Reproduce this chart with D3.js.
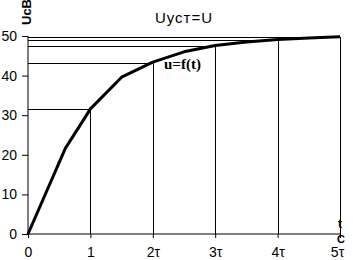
<!DOCTYPE html>
<html lang="ru">
<head>
  <meta charset="UTF-8">
  <title>Uуст=U</title>
  <script src="https://d3js.org/d3.v7.min.js"></script>
  <style>
    body { margin: 0; padding: 0; background: #fff; }
    svg { display: block; font-family: Arial, "Liberation Sans", sans-serif; }
    .tick text { font-size: 14px; fill: #000; }
  </style>
</head>
<body>
<div id="chart"></div>
<script>
  // curve u = f(t)
  const tVals = [0, 0.6, 0.87, 1, 1.5, 2, 2.5, 3, 3.5, 4, 4.5, 5];
  const uVals = [0, 21.7, 28.3, 31.6, 39.6, 43.4, 46.0, 47.6, 48.5, 49.1, 49.5, 49.8];
  // drop lines at each tau
  const markT = [1, 2, 3, 4, 5];
  const markU = [31.6, 43.2, 47.5, 49.1, 49.7];
  const xTickLabels = ["0", "1", "2\u03c4", "3\u03c4", "4\u03c4", "5\u03c4"];
  const yTicks = [0, 10, 20, 30, 40, 50];

  const W = 353, H = 260;
  const margin = { top: 36, right: 13, bottom: 26, left: 28 };

  const svg = d3.select("#chart").append("svg")
    .attr("width", W).attr("height", H);

  const x = d3.scaleLinear().domain([0, 5]).range([margin.left, W - margin.right]);
  const y = d3.scaleLinear().domain([0, 50]).range([H - margin.bottom, margin.top]);

  // guide lines
  const g = svg.append("g").attr("stroke", "#000").attr("stroke-width", 1)
    .attr("shape-rendering", "crispEdges");
  markT.forEach((t, i) => {
    g.append("line")
      .attr("x1", x(0)).attr("x2", x(t))
      .attr("y1", Math.round(y(markU[i])) + 0.5).attr("y2", Math.round(y(markU[i])) + 0.5);
    g.append("line")
      .attr("x1", Math.round(x(t)) + 0.5).attr("x2", Math.round(x(t)) + 0.5)
      .attr("y1", y(0)).attr("y2", y(markU[i]));
  });

  // axes
  const xAxis = svg.append("g")
    .attr("transform", `translate(0,${y(0)})`)
    .call(d3.axisBottom(x).tickValues(d3.range(6)).tickSize(4).tickPadding(9)
      .tickFormat((d, i) => xTickLabels[i]));
  const yAxis = svg.append("g")
    .attr("transform", `translate(${x(0)},0)`)
    .call(d3.axisLeft(y).tickValues(yTicks).tickSize(6).tickPadding(5));
  [xAxis, yAxis].forEach(a => {
    a.select(".domain").attr("stroke", "#000");
    a.selectAll(".tick line").attr("stroke", "#000");
  });
  xAxis.select(".domain").attr("d", `M${x(0)},0H${x(5)}`);
  yAxis.select(".domain").attr("d", `M0,${y(0)}V${y(50)}`);
  // last label sits a little left of its tick
  xAxis.selectAll(".tick text").filter((d, i) => i === 5).attr("dx", -3);

  // curve
  const line = d3.line().x(d => x(d[0])).y(d => y(d[1]));
  svg.append("path")
    .datum(tVals.map((t, i) => [t, uVals[i]]))
    .attr("fill", "none")
    .attr("stroke", "#000")
    .attr("stroke-width", 3)
    .attr("stroke-linejoin", "round")
    .attr("d", line);

  // texts
  svg.append("text")
    .attr("x", 184).attr("y", 23)
    .attr("text-anchor", "middle")
    .attr("font-size", 15)
    .attr("letter-spacing", 1)
    .text("Uуст=U");

  svg.append("text")
    .attr("x", 164).attr("y", 69)
    .attr("font-family", "'Liberation Serif', 'DejaVu Serif', serif")
    .attr("font-weight", "bold")
    .attr("font-size", 15)
    .text("u=f(t)");

  svg.append("text")
    .attr("transform", "translate(31,25) rotate(-90)")
    .attr("font-weight", "bold")
    .attr("font-size", 13)
    .text("UсВ");

  svg.append("text")
    .attr("x", 338).attr("y", 228)
    .attr("font-weight", "bold")
    .attr("font-size", 12)
    .text("t");
  svg.append("text")
    .attr("x", 337).attr("y", 243)
    .attr("font-weight", "bold")
    .attr("font-size", 11)
    .text("С");
</script>
</body>
</html>
